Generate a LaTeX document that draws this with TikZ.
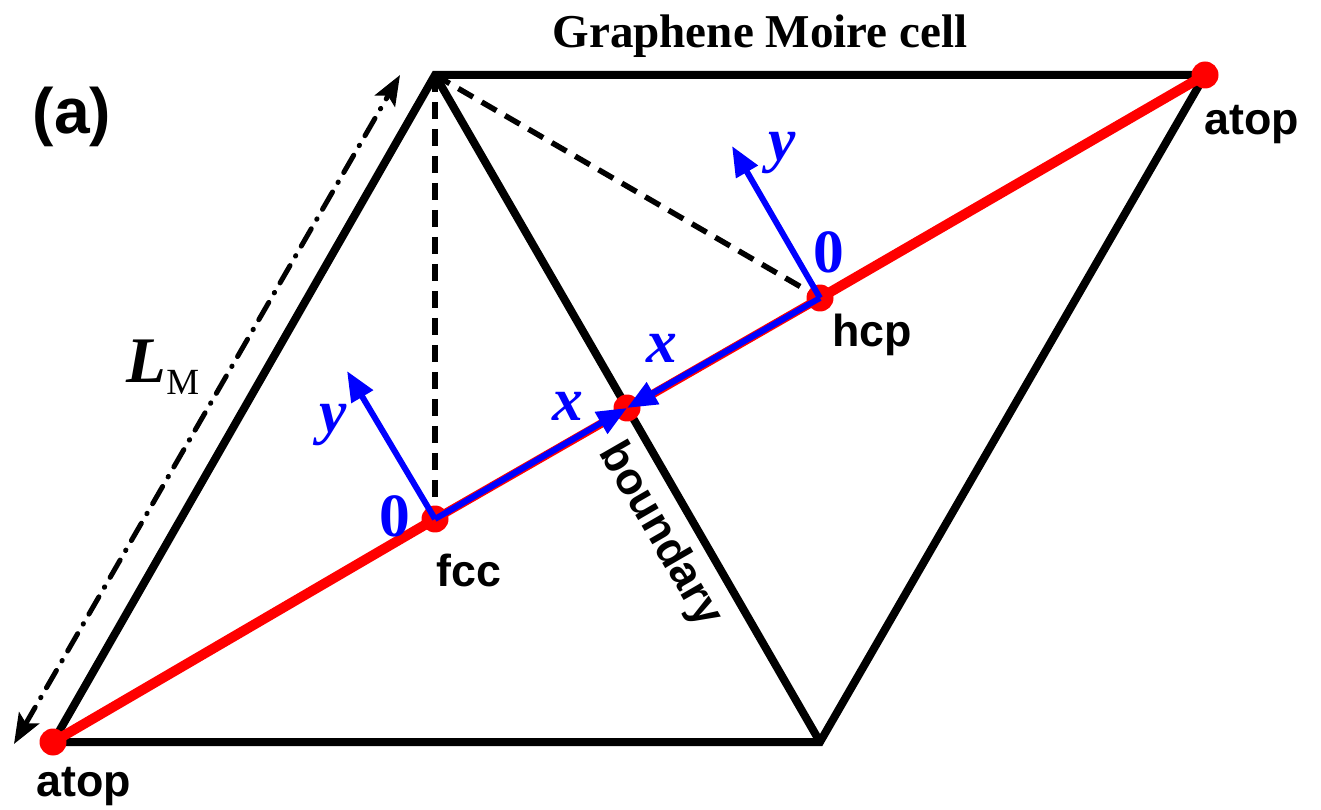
\documentclass[tikz,border=0pt]{standalone}
\usepackage{fontspec}
\setmainfont{Liberation Serif}
\setsansfont{Liberation Sans}
\usetikzlibrary{arrows.meta, positioning}

\begin{document}
\begin{tikzpicture}[
    x=0.02cm, y=-0.02cm,
    cellline/.style={line width=0.16cm},
    guideline/.style={line width=0.11cm, dash pattern=on 0.34cm off 0.2cm},
    pathline/.style={red, line width=0.2cm},
    lengtharr/.style={{Stealth[length=0.6cm, width=0.46cm, inset=0.12cm]}-{Stealth[length=0.6cm, width=0.46cm, inset=0.12cm]}, line width=0.1cm, line cap=round, dash pattern=on 0.4cm off 0.22cm on 0.01cm off 0.22cm},
    axisarr/.style={-{Triangle[length=0.6cm, width=0.48cm]}, blue, line width=0.12cm},
    sitedot/.style={circle, fill=red, inner sep=0pt, minimum size=0.54cm},
    sitelabel/.style={font=\sffamily\bfseries\fontsize{25.5}{26}\selectfont},
    axislabel/.style={text=blue, font=\bfseries\itshape\fontsize{35}{35}\selectfont},
    originlabel/.style={text=blue, font=\bfseries\fontsize{35}{35}\selectfont}
]
\useasboundingbox (0,0) rectangle (1321,810);

% corners and sites of the cell
\coordinate (bl) at (53,742);
\coordinate (br) at (820,742);
\coordinate (tl) at (435,75);
\coordinate (tr) at (1205,75);
\coordinate (fcc) at (435,519);
\coordinate (hcp) at (820,298);
\coordinate (bnd) at (627,408);
\coordinate (fccy) at (347,371);
\coordinate (hcpy) at (732,146);
\coordinate (lmA) at (14,744);
\coordinate (lmB) at (400,75);

% cell
\draw[cellline] (tl) -- (tr) -- (br) -- (bl) -- cycle;
\draw[cellline] (tl) -- (br);
\draw[guideline] (tl) -- (fcc);
\draw[guideline] (tl) -- (hcp);
\draw[lengtharr] (lmA) -- (lmB);

% path through the sites
\draw[pathline] (bl) -- (fcc);
\draw[pathline] (hcp) -- (tr);
\draw[red, line width=0.17cm] (fcc) -- (hcp);
\node[sitedot] (dotbl) at (bl) {};
\node[sitedot] (dottr) at (tr) {};
\node[sitedot] (dotfcc) at (fcc) {};
\node[sitedot] (dothcp) at (hcp) {};
\node[sitedot] (dotbnd) at (bnd) {};

% local axes
\draw[axisarr] (fcc) -- (bnd);
\draw[axisarr] (hcp) -- (bnd);
\draw[axisarr] (fcc) -- (fccy);
\draw[axisarr] (hcp) -- (hcpy);

% labels
\node[font=\bfseries\fontsize{26.8}{27}\selectfont] (title) at (760,36) {Graphene Moire cell};
\node[font=\sffamily\bfseries\fontsize{36.5}{37}\selectfont] (panel) at (72,117) {(a)};
\node[sitelabel] (atopbl) at (84,787) {atop};
\node[sitelabel] (atoptr) at (1252,125) {atop};
\node[sitelabel] (fcclabel) at (469,570) {fcc};
\node[sitelabel] (hcplabel) at (872,335) {hcp};
\node[sitelabel, rotate=-60] (bndlabel) at (660,535) {boundary};
\node[originlabel] (zerofcc) at (395,516) {0};
\node[originlabel] (zerohcp) at (829,252) {0};
\node[axislabel] (yfcc) at (333,425) {y};
\node[axislabel] (yhcp) at (782,153) {y};
\node[axislabel] (xfcc) at (568,406) {x};
\node[axislabel] (xhcp) at (662,348) {x};
\node (lmlabel) at (163,367) {{\fontsize{37}{37}\selectfont\bfseries\itshape L}{\fontsize{21}{21}\selectfont\raisebox{-7pt}{M}}};
\end{tikzpicture}
\end{document}
